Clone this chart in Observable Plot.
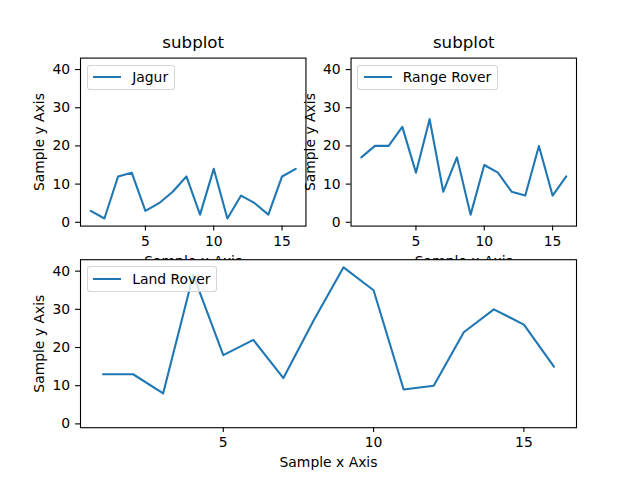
<!DOCTYPE html>
<html><head><meta charset="utf-8">
<script src="https://cdn.jsdelivr.net/npm/d3@7"></script>
<script src="https://cdn.jsdelivr.net/npm/@observablehq/plot@0.6"></script>
<style>
body{margin:0;background:#fff;}
#fig{position:relative;width:640px;height:480px;overflow:hidden;font-family:"DejaVu Sans";background:#fff;}
#fig svg{position:absolute;left:0;top:0;}
.legend{position:absolute;display:flex;align-items:center;box-sizing:border-box;height:25.5px;padding:0 5.6px 0 5.4px;background:rgba(255,255,255,0.8);border:1px solid rgba(204,204,204,0.8);border-radius:3px;font-size:13.9px;color:#000;white-space:nowrap;font-family:"DejaVu Sans";}
.legend .sw{display:inline-block;width:27.8px;height:2.1px;background:#1f77b4;margin-right:11.1px;}
</style></head><body><div id="fig"></div><script>
const xValues = [1,2,3,4,5,6,7,8,9,10,11,12,13,14,15,16];
const jagur = [3,1,12,13,3,5,8,12,2,14,1,7,5,2,12,14];
const rangeRover = [17,20,20,25,13,27,8,17,2,15,13,8,7,20,7,12];
const landRover = [13,13,8,39,18,22,12,27,41,35,9,10,24,30,26,15];
const xTicks = [5,10,15];
const yTicks = [0,10,20,30,40];
const seriesNames = ["Jagur","Range Rover","Land Rover"];
const titleText = "subplot";
const xLabel = "Sample x Axis";
const yLabel = "Sample y Axis";

const fig = document.getElementById("fig");

function panel(series, box, title, opaque) {
  const [l, r, t, b] = box;
  const data = xValues.map((x, i) => ({x, y: series[i]}));
  const marks = [];
  if (opaque) marks.push(Plot.frame({fill: "white", stroke: null}));
  marks.push(
    Plot.axisX({ticks: xTicks, tickSize: 4.9, tickPadding: 5, fontSize: 13.9, label: null, strokeWidth: 1.1}),
    Plot.axisY({ticks: yTicks, tickSize: 4.9, tickPadding: 5.5, fontSize: 13.9, label: null, strokeWidth: 1.1}),
    Plot.line(data, {x: "x", y: "y", stroke: "#1f77b4", strokeWidth: 2.1}),
    Plot.frame({stroke: "black", strokeWidth: 1.1}),
    Plot.text([xLabel], {text: d => d, frameAnchor: "bottom", lineAnchor: "bottom", dy: 39.5, fontSize: 13.9, fill: "black"}),
    Plot.text([yLabel], {text: d => d, frameAnchor: "left", textAnchor: "middle", lineAnchor: "middle", rotate: -90, dx: -40.5, fontSize: 13.9, fill: "black"})
  );
  if (title) marks.push(Plot.text([title], {text: d => d, frameAnchor: "top", lineAnchor: "bottom", dy: -10, fontSize: 16.67, fill: "black"}));
  return Plot.plot({
    width: 640, height: 480,
    marginLeft: l, marginRight: 640 - r, marginTop: t, marginBottom: 480 - b,
    x: {domain: [0.25, 16.75]},
    y: {domain: [-1, 43]},
    style: {background: "transparent", fontFamily: "DejaVu Sans", overflow: "visible", color: "black"},
    marks
  });
}

const boxes = [
  [80, 305.45, 57.6, 225.6],
  [350.55, 576, 57.6, 225.6],
  [80, 576, 259.2, 427.2]
];
const seriesList = [jagur, rangeRover, landRover];

seriesList.forEach((s, i) => {
  fig.appendChild(panel(s, boxes[i], i < 2 ? titleText : null, i === 2));
});

seriesList.forEach((s, i) => {
  const [l, r, t, b] = boxes[i];
  const lg = document.createElement("div");
  lg.className = "legend";
  lg.style.left = (l + 6.9) + "px";
  lg.style.top = (t + 6.9) + "px";
  const sw = document.createElement("span");
  sw.className = "sw";
  const tx = document.createElement("span");
  tx.textContent = seriesNames[i];
  lg.appendChild(sw);
  lg.appendChild(tx);
  fig.appendChild(lg);
});
</script></body></html>
